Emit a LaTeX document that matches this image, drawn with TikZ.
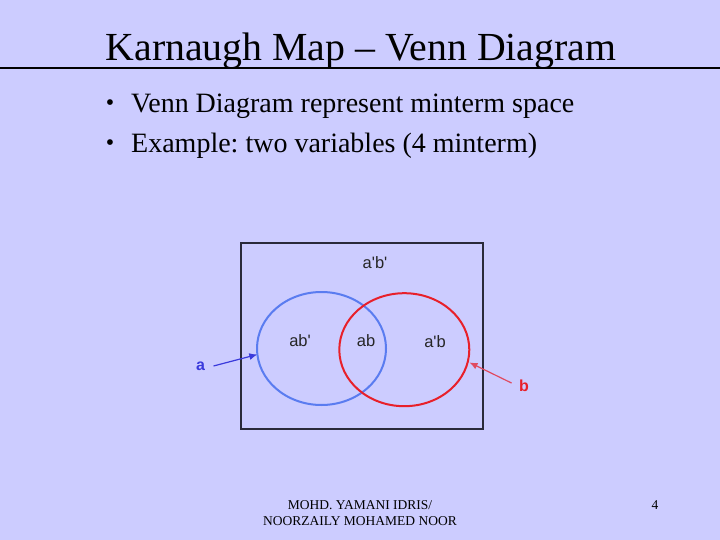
\documentclass[tikz,border=0pt]{standalone}
\usepackage{fontspec}
\setmainfont{Liberation Serif}
\newfontfamily\arialf{Liberation Sans}
\usetikzlibrary{arrows.meta}
\definecolor{bg}{HTML}{CCCCFF}
\definecolor{vblue}{HTML}{5A7CF0}
\definecolor{vred}{HTML}{E8202A}
\definecolor{ablue}{HTML}{3A3ADC}
\definecolor{bred}{HTML}{E04A60}
\definecolor{boxc}{HTML}{2A2A3A}
\begin{document}
\frenchspacing
\begin{tikzpicture}[x=1pt,y=-1pt,
  lbl/.style={font=\arialf\fontsize{16.5}{18}\selectfont, text=black!85, inner sep=0pt},
  varlbl/.style={font=\arialf\bfseries\fontsize{16}{18}\selectfont, inner sep=0pt},
  bullet/.style={font=\fontsize{28}{32}\selectfont, anchor=base west, inner sep=0pt},
  dot/.style={font=\fontsize{24}{28}\selectfont, anchor=center, inner sep=0pt},
  foot/.style={font=\fontsize{13.5}{16.5}\selectfont, inner sep=0pt}]
\fill[bg] (0,0) rectangle (720,540);
\useasboundingbox (0,0) rectangle (720,540);
% title
\node[font=\fontsize{39.8}{44}\selectfont, anchor=base, inner sep=0pt] (title) at (361,61) {Karnaugh Map -- Venn Diagram};
\draw[line width=2pt] (0,68) -- (720,68);
% bullets
\node[dot] (d1) at (110,105) {\textbullet};
\node[bullet] (b1) at (131,113) {Venn Diagram represent minterm space};
\node[dot] (d2) at (110,145) {\textbullet};
\node[bullet] (b2) at (131,153) {Example: two variables (4 minterm)};
% diagram
\draw[boxc, line width=2pt] (241,243) rectangle (483,429);
\draw[vblue, line width=2pt] (321.5,348.5) ellipse [x radius=64.5, y radius=56.5];
\draw[vred, line width=2pt] (404.3,349.7) ellipse [x radius=65, y radius=56.5];
\coordinate (atip) at (257.3,354.5);
\coordinate (btip) at (469.5,362.5);
\node[lbl] (nn) at (375,263) {a'b'};
\node[lbl] (ab1) at (300,341) {ab'};
\node[lbl] (ab) at (366,341) {ab};
\node[lbl] (ab2) at (435,342) {a'b};
\node[varlbl, text=ablue] (a) at (200.5,366) {a};
\node[varlbl, text=vred] (b) at (524,386) {b};
\draw[ablue, line width=1.2pt, -{Latex[length=8pt,width=7pt]}] (213.5,366) -- (atip);
\draw[bred, line width=1.2pt, -{Latex[length=8pt,width=7pt]}] (511.5,383) -- (btip);
% footer
\node[foot, anchor=base] (f1) at (360,509) {MOHD. YAMANI IDRIS/};
\node[foot, anchor=base] (f2) at (360,525.5) {NOORZAILY MOHAMED NOOR};
\node[foot, anchor=base] (pg) at (655,509) {4};
\end{tikzpicture}
\end{document}
